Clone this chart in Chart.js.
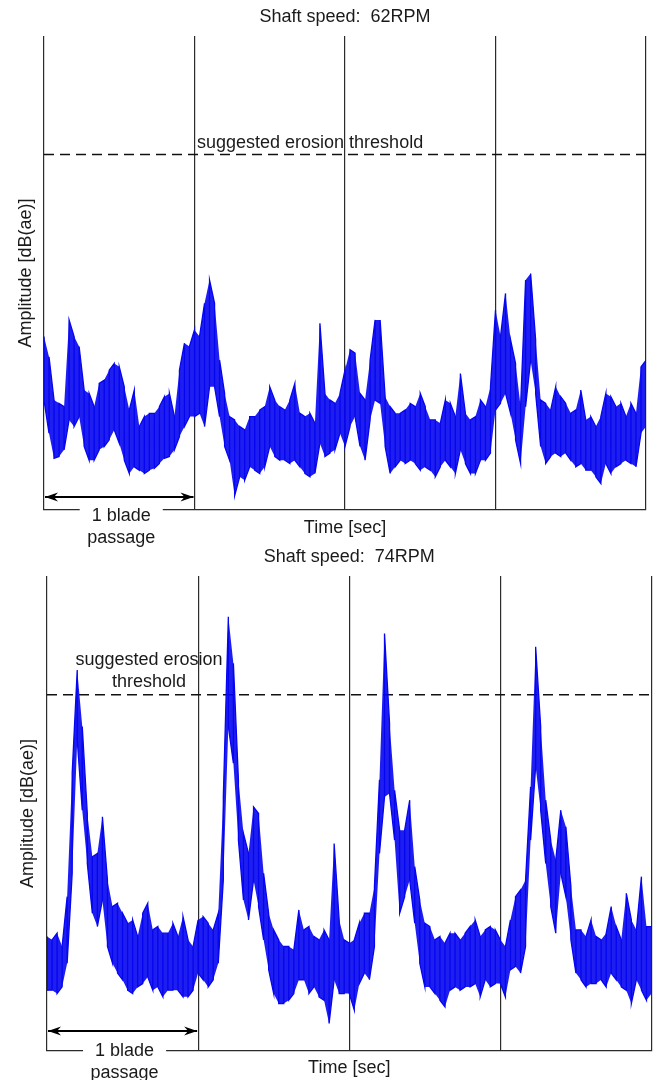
<!DOCTYPE html>
<html>
<head>
<meta charset="utf-8">
<script src="https://cdn.jsdelivr.net/npm/chart.js@4.4.1/dist/chart.umd.min.js"></script>
<style>
  body { margin: 0; background: #fff; }
  #wrap { position: relative; width: 654px; height: 1080px; overflow: hidden; }
  canvas { position: absolute; left: 0; }
  #chart62 { top: 0; }
  #chart74 { top: 540px; }
</style>
</head>
<body>
<div id="wrap">
  <canvas id="chart74" width="654" height="540"></canvas>
  <canvas id="chart62" width="654" height="552"></canvas>
</div>
<script>
// x axis: 4 blade passages, 30 readings per passage (upper / lower edge of the noisy trace)
const samplesPerPassage = 30;
const passages = 4;
const threshold = 75;

const title62 = "Shaft speed:  62RPM";
const title74 = "Shaft speed:  74RPM";
const yTitle = "Amplitude [dB(ae)]";
const xTitle = "Time [sec]";

// 62 RPM (0 = bottom axis, 100 = top of plot)
const hi62 = [
  36.6, 32.3, 23.2, 22.5, 21.8, 40.1, 36.6, 34.5, 25.3, 24.6, 21.8, 26.7, 27.4, 29.5, 30.9, 30.2, 26.0, 21.1, 25.3, 17.6, 19.7, 20.4, 20.4, 21.8, 23.9, 24.6, 19.7, 29.5, 35.2, 34.5,
  38.0, 36.6, 43.6, 48.5, 43.6, 31.6, 24.6, 19.7, 19.0, 17.6, 16.9, 19.7, 19.7, 21.1, 21.8, 26.0, 23.2, 21.8, 21.1, 23.2, 26.7, 20.4, 19.7, 20.4, 18.3, 39.4, 24.6, 23.2, 22.5, 24.6,
  29.5, 33.8, 33.1, 24.6, 23.2, 31.6, 40.1, 40.1, 23.9, 21.8, 20.4, 20.4, 21.1, 22.5, 21.8, 24.6, 21.8, 19.0, 19.0, 18.3, 23.2, 22.5, 19.7, 28.8, 20.4, 19.0, 19.7, 23.2, 21.8, 26.0,
  42.2, 36.6, 45.7, 35.9, 30.9, 21.8, 48.5, 49.9, 35.9, 23.2, 22.5, 21.1, 26.0, 23.9, 22.5, 20.4, 21.1, 25.3, 19.0, 19.7, 17.6, 19.7, 24.6, 23.9, 21.8, 22.5, 19.7, 22.5, 20.4, 30.2,
  31.6
];
const lo62 = [
  23.2, 16.2, 10.9, 11.3, 12.7, 19.0, 17.6, 19.7, 13.4, 10.5, 10.5, 12.7, 13.4, 14.8, 16.9, 14.1, 10.5, 7.7, 9.1, 8.4, 7.7, 8.4, 8.8, 9.8, 10.9, 11.3, 12.7, 15.5, 17.6, 19.7,
  19.7, 20.4, 17.6, 26.0, 26.0, 19.7, 13.4, 10.5, 3.0, 7.0, 6.3, 9.1, 8.4, 7.7, 9.1, 13.4, 11.3, 10.5, 10.5, 9.8, 10.5, 9.1, 7.7, 7.0, 7.7, 14.1, 11.3, 12.0, 12.7, 16.2,
  13.4, 17.6, 19.7, 13.4, 10.5, 19.0, 23.2, 22.5, 13.4, 7.7, 9.1, 10.5, 9.8, 10.5, 9.8, 8.4, 9.1, 8.4, 7.0, 9.1, 10.5, 9.1, 7.7, 12.7, 9.8, 7.7, 7.7, 10.5, 10.5, 12.0,
  21.1, 22.5, 24.6, 20.4, 14.8, 9.8, 21.8, 31.6, 24.6, 13.4, 9.8, 11.3, 12.0, 11.3, 12.0, 10.5, 9.1, 9.8, 8.4, 8.4, 7.0, 5.6, 9.8, 7.7, 9.1, 9.8, 10.5, 9.8, 9.1, 16.2,
  17.6
];

// 74 RPM
const hi74 = [
  24.1, 23.4, 24.8, 22.0, 32.5, 58.5, 80.2, 68.3, 50.0, 40.9, 41.6, 49.3, 36.0, 30.4, 31.1, 29.0, 26.9, 27.6, 24.1, 29.0, 31.1, 25.5, 26.2, 24.8, 24.8, 26.9, 24.1, 28.3, 23.4, 22.0,
  27.6, 28.3, 26.9, 25.5, 29.0, 53.5, 91.4, 81.6, 57.1, 45.8, 41.6, 51.4, 50.0, 37.4, 29.0, 25.5, 23.4, 22.0, 22.0, 21.3, 29.7, 25.5, 26.2, 24.1, 23.4, 25.5, 23.4, 43.7, 27.6, 23.4,
  22.7, 23.4, 26.9, 29.0, 29.0, 34.6, 57.1, 87.9, 69.0, 54.9, 46.5, 46.5, 52.8, 38.8, 31.8, 26.9, 26.2, 23.4, 24.1, 22.7, 24.8, 24.8, 23.4, 24.8, 26.2, 27.6, 24.1, 25.5, 26.2, 25.5,
  23.4, 22.0, 27.6, 32.5, 33.9, 36.0, 55.6, 85.1, 68.3, 52.8, 44.4, 40.2, 50.7, 47.2, 34.6, 25.5, 25.5, 24.1, 27.6, 24.1, 23.4, 24.8, 30.4, 26.2, 23.4, 33.2, 27.6, 25.5, 36.7, 26.2,
  26.2
];
const lo74 = [
  12.8, 12.8, 12.1, 13.5, 18.5, 37.4, 65.5, 50.7, 39.5, 29.0, 26.2, 31.8, 22.0, 18.5, 16.4, 15.0, 12.8, 12.1, 13.5, 14.2, 15.6, 12.8, 13.5, 11.4, 12.8, 12.8, 12.8, 11.4, 11.4, 12.8,
  16.4, 15.0, 13.5, 15.0, 18.5, 36.0, 68.3, 60.6, 44.4, 31.8, 27.6, 36.0, 30.4, 23.4, 17.1, 12.1, 10.0, 10.0, 10.7, 12.1, 15.0, 15.0, 12.1, 13.5, 11.4, 10.7, 5.8, 15.0, 12.1, 12.1,
  12.1, 8.6, 14.2, 16.4, 15.0, 22.0, 41.6, 53.5, 54.2, 44.4, 29.0, 32.5, 36.0, 26.9, 18.5, 13.5, 13.5, 12.1, 10.7, 9.3, 12.8, 13.5, 12.8, 13.5, 13.5, 14.2, 11.4, 15.0, 13.5, 14.2,
  14.2, 11.4, 17.1, 17.8, 16.4, 22.0, 44.4, 59.9, 50.7, 39.5, 30.4, 24.8, 37.4, 32.5, 23.4, 16.4, 15.0, 13.5, 14.2, 14.2, 15.0, 13.5, 16.4, 15.0, 13.5, 12.8, 10.0, 15.0, 12.8, 10.7,
  12.1
];

const FONT = '"Liberation Sans", Arial, sans-serif';
const TEXT = "#1a1a1a";
const BLUE = "#0505f0";
Chart.defaults.font.family = FONT;
Chart.defaults.color = TEXT;

// trace: a vertical stroke at every reading, joined alternately along top and bottom
function traceFrom(hi, lo) {
  const pts = [];
  hi.forEach((h, i) => {
    const x = i / samplesPerPassage;
    if (i % 2 === 0) pts.push({ x, y: h }, { x, y: lo[i] });
    else pts.push({ x, y: lo[i] }, { x, y: h });
  });
  return pts;
}
function edgeFrom(values) {
  return values.map((v, i) => ({ x: i / samplesPerPassage, y: v }));
}

// "suggested erosion threshold", the blade passage arrow and its label
const notesPlugin = {
  id: "bladeNotes",
  afterDraw(chart, args, opts) {
    const { ctx, chartArea } = chart;
    const xs = chart.scales.x;
    ctx.save();
    ctx.font = "18px " + FONT;
    ctx.fillStyle = TEXT;
    ctx.textBaseline = "alphabetic";
    opts.labels.forEach((l) => {
      ctx.textAlign = l.align;
      ctx.fillText(l.text, l.x, l.y);
    });

    // double arrow over one passage
    const x0 = xs.getPixelForValue(0) + 1;
    const x1 = xs.getPixelForValue(1) - 1;
    const ay = chartArea.bottom - opts.arrowOffset;
    ctx.strokeStyle = "#000";
    ctx.fillStyle = "#000";
    ctx.lineWidth = 2;
    ctx.beginPath();
    ctx.moveTo(x0, ay);
    ctx.lineTo(x1, ay);
    ctx.stroke();
    [[x0, 1], [x1, -1]].forEach(([x, d]) => {
      ctx.beginPath();
      ctx.moveTo(x, ay);
      ctx.lineTo(x + d * 13, ay - 4.5);
      ctx.lineTo(x + d * 9, ay);
      ctx.lineTo(x + d * 13, ay + 4.5);
      ctx.closePath();
      ctx.fill();
    });

    // label sits in a gap of the bottom axis line
    const cx = xs.getPixelForValue(0.5) + 2;
    const w = ctx.measureText("1 blade").width;
    ctx.fillStyle = "#fff";
    ctx.fillRect(cx - w / 2 - 12, chartArea.bottom - 2, w + 24, 4);
    ctx.fillStyle = TEXT;
    ctx.textAlign = "center";
    ctx.fillText("1 blade", cx, chartArea.bottom + opts.labelDrop);
    ctx.fillText("passage", cx, chartArea.bottom + opts.labelDrop + 22);
    ctx.restore();
  },
};

function makeChart(id, cfg) {
  return new Chart(document.getElementById(id), {
    type: "line",
    plugins: [notesPlugin],
    data: {
      datasets: [
        {
          label: "signal",
          data: traceFrom(cfg.hi, cfg.lo),
          borderColor: BLUE,
          borderWidth: 1.3,
          pointRadius: 0,
          fill: false,
        },
        {
          label: "upper",
          data: edgeFrom(cfg.hi),
          borderColor: "rgba(0,0,0,0)",
          borderWidth: 0,
          pointRadius: 0,
          backgroundColor: "rgba(5,5,240,0.9)",
          fill: "+1",
        },
        {
          label: "lower",
          data: edgeFrom(cfg.lo),
          borderColor: "rgba(0,0,0,0)",
          borderWidth: 0,
          pointRadius: 0,
          fill: false,
        },
        {
          label: "threshold",
          data: [{ x: 0, y: threshold }, { x: passages, y: threshold }],
          borderColor: "#111",
          borderWidth: 1.4,
          borderDash: [10, 6],
          pointRadius: 0,
          fill: false,
        },
      ],
    },
    options: {
      responsive: false,
      animation: false,
      events: [],
      layout: { padding: { left: 0, right: cfg.padRight, top: 0, bottom: 0 } },
      plugins: {
        legend: { display: false },
        tooltip: { enabled: false },
        title: {
          display: true,
          fullSize: false,
          text: cfg.title,
          color: TEXT,
          font: { size: 18, weight: "normal" },
          padding: { top: 6, bottom: 8.4 },
        },
        bladeNotes: cfg.notes,
      },
      scales: {
        x: {
          type: "linear",
          min: 0,
          max: passages,
          ticks: { display: false, stepSize: 1 },
          grid: { color: "#2b2b2b", lineWidth: 1.2, drawTicks: false },
          border: { display: true, color: "#2b2b2b", width: 1.2 },
          title: {
            display: true,
            text: xTitle,
            color: TEXT,
            font: { size: 18 },
            padding: { top: 0, bottom: cfg.xTitlePad },
          },
          afterFit(scale) {
            scale.height = cfg.xHeight;
          },
        },
        y: {
          min: 0,
          max: 100,
          ticks: { display: false },
          grid: { display: false },
          border: { display: false },
          title: {
            display: true,
            text: yTitle,
            color: TEXT,
            font: { size: 18 },
            padding: { top: cfg.yTitlePad, bottom: 0 },
          },
          afterFit(scale) {
            scale.width = cfg.yWidth;
          },
        },
      },
    },
  });
}

makeChart("chart62", {
  title: title62,
  hi: hi62,
  lo: lo62,
  padRight: 8,
  xHeight: 42,
  yWidth: 44,
  xTitlePad: 13.5,
  yTitlePad: 15,
  notes: {
    labels: [{ text: "suggested erosion threshold", align: "left", x: 197, y: 148 }],
    arrowOffset: 13,
    labelDrop: 11,
  },
});

makeChart("chart74", {
  title: title74,
  hi: hi74,
  lo: lo74,
  padRight: 2.5,
  xHeight: 29,
  yWidth: 47,
  xTitlePad: 1,
  yTitlePad: 17,
  notes: {
    labels: [
      { text: "suggested erosion", align: "center", x: 149, y: 125 },
      { text: "threshold", align: "center", x: 149, y: 147 },
    ],
    arrowOffset: 20,
    labelDrop: 5,
  },
});
</script>
</body>
</html>
